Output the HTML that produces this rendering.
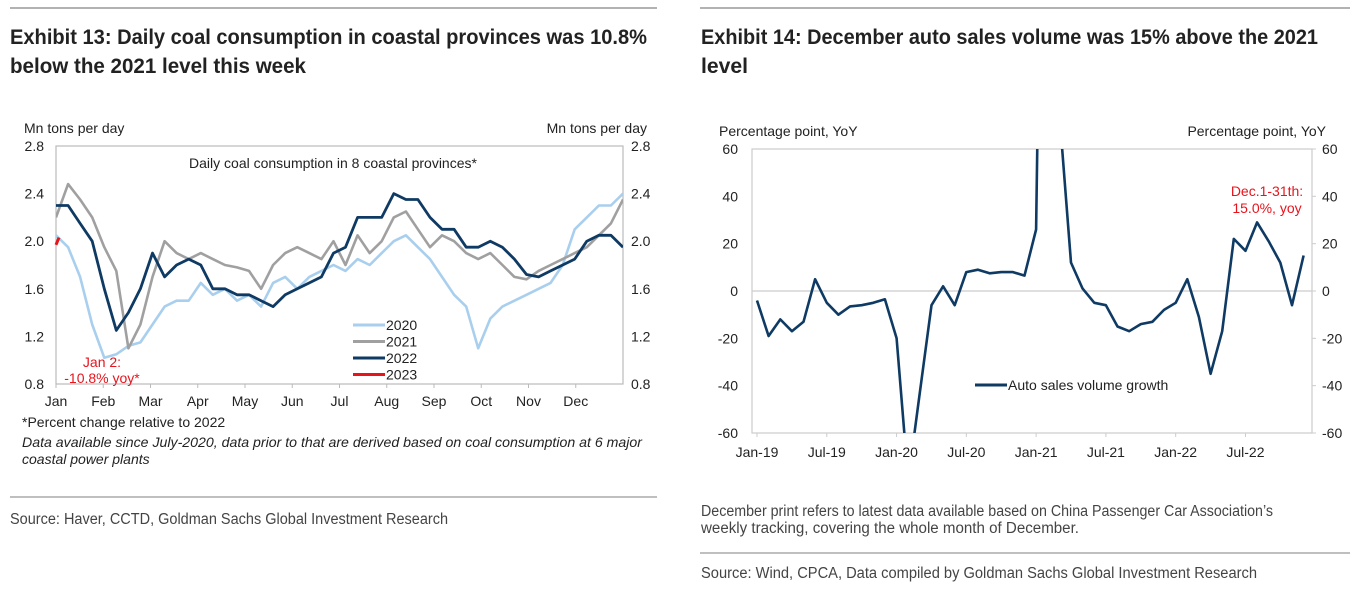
<!DOCTYPE html>
<html><head><meta charset="utf-8"><style>
body{margin:0;background:#fff;}
svg{display:block;font-family:"Liberation Sans Narrow","Liberation Sans",sans-serif;}
</style></head><body>
<svg id="s" width="1359" height="590" viewBox="0 0 1359 590">
<line x1="10" y1="8" x2="657" y2="8" stroke="#999" stroke-width="1.5"/>
<line x1="700" y1="8" x2="1350" y2="8" stroke="#999" stroke-width="1.5"/>
<text x="10" y="44" font-size="21" font-weight="bold" fill="#222" textLength="637" lengthAdjust="spacingAndGlyphs">Exhibit 13: Daily coal consumption in coastal provinces was 10.8%</text>
<text x="10" y="73" font-size="21" font-weight="bold" fill="#222" textLength="296" lengthAdjust="spacingAndGlyphs">below the 2021 level this week</text>
<text x="701" y="44" font-size="21" font-weight="bold" fill="#222" textLength="617" lengthAdjust="spacingAndGlyphs">Exhibit 14: December auto sales volume was 15% above the 2021</text>
<text x="701" y="73" font-size="21" font-weight="bold" fill="#222" textLength="47" lengthAdjust="spacingAndGlyphs">level</text>

<g id="left"></g>
<g id="right"></g>

<text x="22" y="427" font-size="14" fill="#222">*Percent change relative to 2022</text>
<text x="22" y="447" font-size="14" font-style="italic" fill="#222" textLength="620" lengthAdjust="spacingAndGlyphs">Data available since July-2020, data prior to that are derived based on coal consumption at 6 major</text>
<text x="22" y="464" font-size="14" font-style="italic" fill="#222">coastal power plants</text>
<line x1="10" y1="497" x2="657" y2="497" stroke="#aaa" stroke-width="1.5"/>
<text x="10" y="524" font-size="15.5" fill="#444" textLength="438" lengthAdjust="spacingAndGlyphs">Source: Haver, CCTD, Goldman Sachs Global Investment Research</text>

<text x="701" y="516" font-size="15.5" fill="#444" textLength="572" lengthAdjust="spacingAndGlyphs">December print refers to latest data available based on China Passenger Car Association’s</text>
<text x="701" y="533" font-size="15.5" fill="#444" textLength="378" lengthAdjust="spacingAndGlyphs">weekly tracking, covering the whole month of December.</text>
<line x1="700" y1="553" x2="1350" y2="553" stroke="#aaa" stroke-width="1.5"/>
<text x="701" y="578" font-size="15.5" fill="#444" textLength="556" lengthAdjust="spacingAndGlyphs">Source: Wind, CPCA, Data compiled by Goldman Sachs Global Investment Research</text>
</svg>
<script>
const monthLabels=["Jan","Feb","Mar","Apr","May","Jun","Jul","Aug","Sep","Oct","Nov","Dec"];
const coalTicks=[0.8,1.2,1.6,2.0,2.4,2.8];
const coal2020=[2.05,1.95,1.7,1.3,1.02,1.05,1.12,1.15,1.3,1.45,1.5,1.5,1.65,1.55,1.6,1.5,1.55,1.45,1.65,1.7,1.6,1.7,1.75,1.8,1.75,1.85,1.8,1.9,2.0,2.05,1.95,1.85,1.7,1.55,1.45,1.1,1.35,1.45,1.5,1.55,1.6,1.65,1.8,2.1,2.2,2.3,2.3,2.4];
const coal2021=[2.2,2.48,2.35,2.2,1.95,1.75,1.1,1.3,1.7,2.0,1.9,1.85,1.9,1.85,1.8,1.78,1.75,1.6,1.8,1.9,1.95,1.9,1.85,2.0,1.8,2.05,1.9,2.0,2.2,2.25,2.1,1.95,2.05,2.0,1.9,1.85,1.9,1.8,1.7,1.68,1.75,1.8,1.85,1.9,1.95,2.05,2.15,2.35];
const coal2022=[2.3,2.3,2.15,2.0,1.6,1.25,1.4,1.6,1.9,1.7,1.8,1.85,1.8,1.6,1.6,1.55,1.55,1.5,1.45,1.55,1.6,1.65,1.7,1.9,1.95,2.2,2.2,2.2,2.4,2.35,2.35,2.2,2.1,2.1,1.95,1.95,2.0,1.95,1.85,1.72,1.7,1.75,1.8,1.85,2.0,2.05,2.05,1.95];
const coal2023=[1.97,2.03];
const autoLabels=["Jan-19","Jul-19","Jan-20","Jul-20","Jan-21","Jul-21","Jan-22","Jul-22"];
const autoTicks=[-60,-40,-20,0,20,40,60];
const autoGrowth=[-4,-19,-12,-17,-13,5,-5,-10,-6.5,-6,-5,-3.5,-20,-80,-43,-6,2,-6,8,9,7.5,8,8,6.5,26,370,75,12,1,-5,-6,-15,-17,-14,-13,-8,-5,5,-11,-35,-17,22,17,29,21,12,-6,15];

const NS="http://www.w3.org/2000/svg";
function mk(parent,tag,attrs,txt){const e=document.createElementNS(NS,tag);for(const k in attrs)e.setAttribute(k,attrs[k]);if(txt!==undefined)e.textContent=txt;parent.appendChild(e);return e;}

// Left chart
const L=document.getElementById('left');
const lx0=56,lx1=623,ly0=384,ly1=146;
const ly=v=>ly0-(v-0.8)/2.0*(ly0-ly1);
const lxFrac=f=>lx0+f*(lx1-lx0);
const clipL=mk(L,'clipPath',{id:'cl'});mk(clipL,'rect',{x:lx0,y:ly1,width:lx1-lx0,height:ly0-ly1});
let e;
e=mk(L,'rect',{x:lx0,y:ly1,width:lx1-lx0,height:ly0-ly1,fill:'none',stroke:'#bbb','stroke-width':1.2});

coalTicks.forEach(t=>{
 e=mk(L,'text',{x:lx0-12,y:ly(t)+5,'font-size':14,'text-anchor':'end',fill:'#222'},t.toFixed(1));
 
 e=mk(L,'text',{x:lx1+8,y:ly(t)+5,'font-size':14,fill:'#222'},t.toFixed(1));
 
});
monthLabels.forEach((m,i)=>{
 const x=lxFrac(i/12);
 mk(L,'line',{x1:x,y1:ly0,x2:x,y2:ly0+4,stroke:'#bbb'});
 e=mk(L,'text',{x:x,y:ly0+22,'font-size':14,'text-anchor':'middle',fill:'#222'},m);
 
});
e=mk(L,'text',{x:24,y:133,'font-size':14,fill:'#222'},'Mn tons per day');

e=mk(L,'text',{x:647,y:133,'font-size':14,'text-anchor':'end',fill:'#222'},'Mn tons per day');

e=mk(L,'text',{x:333,y:168,'font-size':14,'text-anchor':'middle',fill:'#222'},'Daily coal consumption in 8 coastal provinces*');

function coalLine(arr,color,name,w){
 const pts=arr.map((v,i)=>lxFrac(i/(arr.length-1)).toFixed(1)+','+ly(v).toFixed(1)).join(' ');
 const p=mk(L,'polyline',{points:pts,fill:'none',stroke:color,'stroke-width':w,'stroke-linejoin':'round','clip-path':'url(#cl)'});
 
}
coalLine(coal2020,'#a9cfee','line-2020',2.6);
coalLine(coal2021,'#a0a0a0','line-2021',2.6);
coalLine(coal2022,'#0e3a63','line-2022',2.8);
{
 const pts=coal2023.map((v,i)=>(lx0+i*3).toFixed(1)+','+ly(v).toFixed(1)).join(' ');
 e=mk(L,'polyline',{points:pts,fill:'none',stroke:'#e8141c','stroke-width':3});
 
}
const legItems=[['2020','#a9cfee'],['2021','#a0a0a0'],['2022','#0e3a63'],['2023','#e8141c']];
legItems.forEach((it,i)=>{
 const y=325+i*16.5;
 e=mk(L,'line',{x1:353,y1:y,x2:385,y2:y,stroke:it[1],'stroke-width':3});
 
 e=mk(L,'text',{x:386,y:y+5,'font-size':14,fill:'#222'},it[0]);
 
});
e=mk(L,'text',{x:102,y:367,'font-size':14,'text-anchor':'middle',fill:'#e8141c'},'Jan 2:');

e=mk(L,'text',{x:102,y:383,'font-size':14,'text-anchor':'middle',fill:'#e8141c'},'-10.8% yoy*');


// Right chart
const R=document.getElementById('right');
const rx0=752,rx1=1312,ry0=433,ry1=149;
const ry=v=>ry0-(v+60)/120*(ry0-ry1);
const rx=i=>757+i*11.63;
const clipR=mk(R,'clipPath',{id:'cr'});mk(clipR,'rect',{x:rx0,y:ry1,width:rx1-rx0,height:ry0-ry1});
e=mk(R,'rect',{x:rx0,y:ry1,width:rx1-rx0,height:ry0-ry1,fill:'none',stroke:'#ccc','stroke-width':1.2});

e=mk(R,'line',{x1:rx0,y1:ry(0),x2:rx1,y2:ry(0),stroke:'#ccc','stroke-width':1.2});

autoTicks.forEach(t=>{
 e=mk(R,'text',{x:rx0-14,y:ry(t)+5,'font-size':14,'text-anchor':'end',fill:'#222'},String(t));
 
 mk(R,'line',{x1:rx1,y1:ry(t),x2:rx1+4,y2:ry(t),stroke:'#ccc'});
 e=mk(R,'text',{x:rx1+10,y:ry(t)+5,'font-size':14,fill:'#222'},String(t));
 
});
autoLabels.forEach((m,i)=>{
 const x=rx(i*6);
 mk(R,'line',{x1:x,y1:ry0,x2:x,y2:ry0+4,stroke:'#ccc'});
 e=mk(R,'text',{x:x,y:ry0+24,'font-size':14,'text-anchor':'middle',fill:'#222'},m);
 
});
e=mk(R,'text',{x:719,y:136,'font-size':14,fill:'#222'},'Percentage point, YoY');

e=mk(R,'text',{x:1326,y:136,'font-size':14,'text-anchor':'end',fill:'#222'},'Percentage point, YoY');

{
 const pts=autoGrowth.map((v,i)=>rx(i).toFixed(1)+','+ry(v).toFixed(1)).join(' ');
 e=mk(R,'polyline',{points:pts,fill:'none',stroke:'#0e3a63','stroke-width':2.6,'stroke-linejoin':'round','clip-path':'url(#cr)'});
 
}
e=mk(R,'line',{x1:975,y1:385,x2:1007,y2:385,stroke:'#0e3a63','stroke-width':3});

e=mk(R,'text',{x:1008,y:390,'font-size':14,fill:'#222'},'Auto sales volume growth');

e=mk(R,'text',{x:1267,y:196,'font-size':14,'text-anchor':'middle',fill:'#e8141c'},'Dec.1-31th:');

e=mk(R,'text',{x:1267,y:213,'font-size':14,'text-anchor':'middle',fill:'#e8141c'},'15.0%, yoy');

</script>
</body></html>
